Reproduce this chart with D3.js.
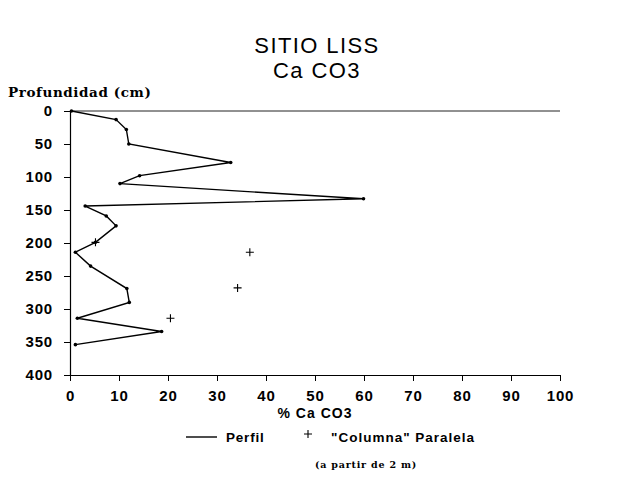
<!DOCTYPE html>
<html>
<head>
<meta charset="utf-8">
<script src="https://cdn.jsdelivr.net/npm/d3@7"></script>
<style>
  body { margin: 0; background: #fff; }
  svg { display: block; }
  .tick text { font-family: "Liberation Sans", Arial, sans-serif; font-weight: bold; font-size: 15px; letter-spacing: 0.8px; fill: #000; }
</style>
</head>
<body>
<div id="chart"></div>
<script>
// Perfil: % Ca CO3 by depth (cm)
var perfilDepth = [0, 13, 28, 50, 78, 98, 110, 133, 144, 159, 174, 199, 214, 235, 269, 290, 314, 334, 354];
var perfilCa    = [0.3, 9.4, 11.5, 12, 32.8, 14.2, 10.2, 59.9, 3.1, 7.4, 9.4, 5.2, 1.1, 4.2, 11.6, 12.1, 1.5, 18.7, 1.1];

// "Columna" Paralela
var columnaDepth = [199, 214, 268, 314];
var columnaCa    = [5.2, 36.7, 34.2, 20.5];

var xTicks = [0, 10, 20, 30, 40, 50, 60, 70, 80, 90, 100];
var yTicks = [0, 50, 100, 150, 200, 250, 300, 350, 400];

var width = 626, height = 484;
var margin = {top: 111, right: 66, bottom: 109, left: 70};

var svg = d3.select('#chart').append('svg')
    .attr('width', width)
    .attr('height', height);

var x = d3.scaleLinear().domain([0, 100]).range([margin.left, width - margin.right]);
var y = d3.scaleLinear().domain([0, 400]).range([margin.top, height - margin.bottom]);

var sans = '"Liberation Sans", Arial, sans-serif';
var serif = '"DejaVu Serif", "Liberation Serif", serif';

// title
svg.append('text').attr('x', 317).attr('y', 53)
    .attr('text-anchor', 'middle')
    .style('font-family', sans)
    .style('font-size', '22px')
    .style('letter-spacing', '1.4px')
    .text('SITIO LISS');
svg.append('text').attr('x', 317).attr('y', 78)
    .attr('text-anchor', 'middle')
    .style('font-family', sans)
    .style('font-size', '22px')
    .style('letter-spacing', '1.4px')
    .text('Ca CO3');

svg.append('text').attr('x', 8).attr('y', 97)
    .style('font-family', serif)
    .style('font-weight', 'bold')
    .style('font-size', '13.5px')
    .style('letter-spacing', '0.6px')
    .text('Profundidad (cm)');

// axes
svg.append('g')
    .attr('transform', 'translate(0,' + y(400) + ')')
    .call(d3.axisBottom(x).tickValues(xTicks).tickSize(6).tickPadding(9).tickSizeOuter(0));
svg.append('g')
    .attr('transform', 'translate(' + x(0) + ',0)')
    .call(d3.axisLeft(y).tickValues(yTicks).tickSize(6).tickPadding(11).tickSizeOuter(0));
svg.selectAll('.domain').attr('stroke', '#000').attr('stroke-width', 1.2);
svg.selectAll('.tick line').attr('stroke', '#000');

// top frame line
svg.append('line')
    .attr('x1', x(0)).attr('x2', x(100))
    .attr('y1', y(0)).attr('y2', y(0))
    .attr('stroke', '#222').attr('stroke-width', 1);

svg.append('text').attr('x', x(50)).attr('y', 418)
    .attr('text-anchor', 'middle')
    .style('font-family', sans)
    .style('font-weight', 'bold')
    .style('font-size', '14px')
    .style('letter-spacing', '1px')
    .text('% Ca CO3');

// perfil line
var pts = perfilDepth.map(function(d, i) { return {depth: d, ca: perfilCa[i]}; });
var line = d3.line()
    .x(function(d) { return x(d.ca); })
    .y(function(d) { return y(d.depth); });
svg.append('path')
    .datum(pts)
    .attr('d', line)
    .attr('fill', 'none')
    .attr('stroke', '#000')
    .attr('stroke-width', 1.4);
svg.append('g').selectAll('circle')
    .data(pts)
    .join('circle')
    .attr('cx', function(d) { return x(d.ca); })
    .attr('cy', function(d) { return y(d.depth); })
    .attr('r', 1.8)
    .attr('fill', '#000');

// columna crosses
var cols = columnaDepth.map(function(d, i) { return {depth: d, ca: columnaCa[i]}; });
svg.append('g').selectAll('path')
    .data(cols)
    .join('path')
    .attr('d', function(d) {
        var cx = x(d.ca), cy = y(d.depth);
        return 'M' + (cx - 4) + ',' + cy + 'H' + (cx + 4) + 'M' + cx + ',' + (cy - 4) + 'V' + (cy + 4);
    })
    .attr('stroke', '#000')
    .attr('stroke-width', 1.1);

// legend
svg.append('line').attr('x1', 186).attr('x2', 217).attr('y1', 437).attr('y2', 437)
    .attr('stroke', '#000').attr('stroke-width', 1.4);
svg.append('text').attr('x', 226).attr('y', 442)
    .style('font-family', sans)
    .style('font-weight', 'bold')
    .style('font-size', '13.5px')
    .style('letter-spacing', '0.8px')
    .text('Perfil');
svg.append('path')
    .attr('d', 'M304,434H312M308,430V438')
    .attr('stroke', '#000').attr('stroke-width', 1.1);
svg.append('text').attr('x', 331).attr('y', 442)
    .style('font-family', sans)
    .style('font-weight', 'bold')
    .style('font-size', '13.5px')
    .style('letter-spacing', '1px')
    .text('"Columna" Paralela');
svg.append('text').attr('x', 366).attr('y', 468)
    .attr('text-anchor', 'middle')
    .style('font-family', serif)
    .style('font-weight', 'bold')
    .style('font-size', '9.5px')
    .style('letter-spacing', '0.8px')
    .text('(a partir de 2 m)');
</script>
</body>
</html>
